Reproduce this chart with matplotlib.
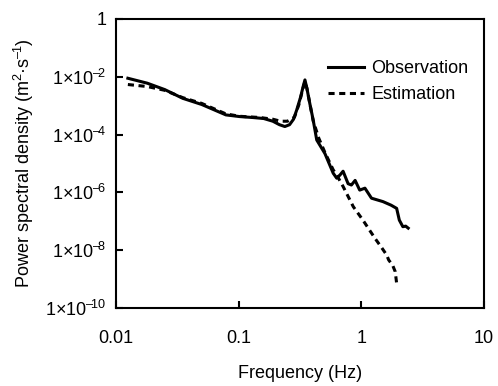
import matplotlib
matplotlib.use("Agg")
import matplotlib.pyplot as plt
from matplotlib.ticker import FixedLocator, FixedFormatter, NullLocator

plt.rcParams['font.family'] = ['Liberation Sans', 'DejaVu Sans']
plt.rcParams['mathtext.fontset'] = 'custom'
plt.rcParams['mathtext.rm'] = 'Liberation Sans'
plt.rcParams['mathtext.it'] = 'Liberation Sans'

obs_f = [0.0125, 0.018, 0.025, 0.035, 0.05, 0.0787, 0.102, 0.13, 0.16, 0.19, 0.215, 0.238, 0.26, 0.28,
         0.297, 0.32, 0.335, 0.347, 0.36, 0.38, 0.405, 0.433, 0.505, 0.59, 0.63, 0.67, 0.71, 0.78, 0.83, 0.89,
         0.97, 1.07, 1.21, 1.5, 1.75, 1.94, 2.04, 2.18, 2.3, 2.41]
obs_p = [8.9e-3, 6.0e-3, 3.6e-3, 1.8e-3, 1.1e-3, 4.8e-4, 4.2e-4, 3.9e-4, 3.6e-4, 2.9e-4, 2.2e-4, 1.9e-4, 2.2e-4, 3.4e-4,
         7.0e-4, 2.0e-3, 4.5e-3, 7.8e-3, 4.0e-3, 1.2e-3, 3.2e-4, 6.5e-5, 2.2e-5, 4.6e-6, 3.1e-6, 4.0e-6, 5.4e-6, 2.0e-6, 1.8e-6, 2.6e-6,
         1.2e-6, 1.4e-6, 6.3e-7, 4.8e-7, 3.6e-7, 2.8e-7, 1.1e-7, 6.5e-8, 6.8e-8, 5.8e-8]

est_f = [0.0125, 0.018, 0.025, 0.035, 0.05, 0.0787, 0.102, 0.149, 0.19, 0.22, 0.25, 0.285, 0.31, 0.33,
         0.347, 0.36, 0.38, 0.405, 0.45, 0.505, 0.59, 0.63, 0.71, 0.86, 1.03, 1.29, 1.45,
         1.61, 1.67, 1.8, 1.89, 1.94]
est_p = [5.4e-3, 4.6e-3, 3.4e-3, 1.9e-3, 1.2e-3, 5.2e-4, 4.3e-4, 3.9e-4, 3.4e-4, 2.9e-4, 2.9e-4, 4.0e-4, 1.1e-3, 3.2e-3,
         6.8e-3, 4.0e-3, 1.2e-3, 3.0e-4, 7.5e-5, 2.4e-5, 6.0e-6, 4.0e-6, 1.6e-6, 3.2e-7, 1.1e-7, 2.6e-8, 1.3e-8,
         6.8e-9, 4.6e-9, 3.0e-9, 1.8e-9, 7.1e-10]

xticks = [0.01, 0.1, 1, 10]
xticklabels = ["0.01", "0.1", "1", "10"]
yticks = [1, 1e-2, 1e-4, 1e-6, 1e-8, 1e-10]
yticklabels = ["1", "1×10$^{\u2013\\!2}$", "1×10$^{\u2013\\!4}$", "1×10$^{\u2013\\!6}$",
               "1×10$^{\u2013\\!8}$", "1×10$^{\u2013\\!10}$"]

fig = plt.figure(figsize=(4.98, 3.86), dpi=100)
ax = fig.add_axes([0.2329, 0.2021, 0.9719 - 0.2329, 0.9508 - 0.2021])

ax.plot(obs_f, obs_p, color='black', lw=2.2, ls='-', label='Observation')
ax.plot(est_f, est_p, color='black', lw=2.2, ls=(0, (2.0, 1.5)), label='Estimation')

ax.set_xscale('log')
ax.set_yscale('log')
ax.set_xlim(0.01, 10)
ax.set_ylim(1e-10, 1)

ax.xaxis.set_major_locator(FixedLocator(xticks))
ax.xaxis.set_major_formatter(FixedFormatter(xticklabels))
ax.xaxis.set_minor_locator(NullLocator())
ax.yaxis.set_major_locator(FixedLocator(yticks))
ax.yaxis.set_major_formatter(FixedFormatter(yticklabels))
ax.yaxis.set_minor_locator(NullLocator())

ax.tick_params(axis='x', direction='in', length=5, width=1.5, labelsize=13, pad=16)
ax.tick_params(axis='y', direction='in', length=5, width=1.5, labelsize=13, pad=7)
for s in ax.spines.values():
    s.set_linewidth(1.5)

ax.set_xlabel('Frequency (Hz)', fontsize=13, labelpad=13)
ax.set_ylabel('Power spectral density (m$^{2}$\u00b7s$^{\u2013\\!1}$)', fontsize=13, labelpad=6)

ax.legend(loc='upper left', bbox_to_anchor=(0.557, 0.883), frameon=False, fontsize=13,
          handlelength=2.0, handletextpad=0.4, labelspacing=0.5, borderaxespad=0)

fig.savefig('out.png', dpi=100)
